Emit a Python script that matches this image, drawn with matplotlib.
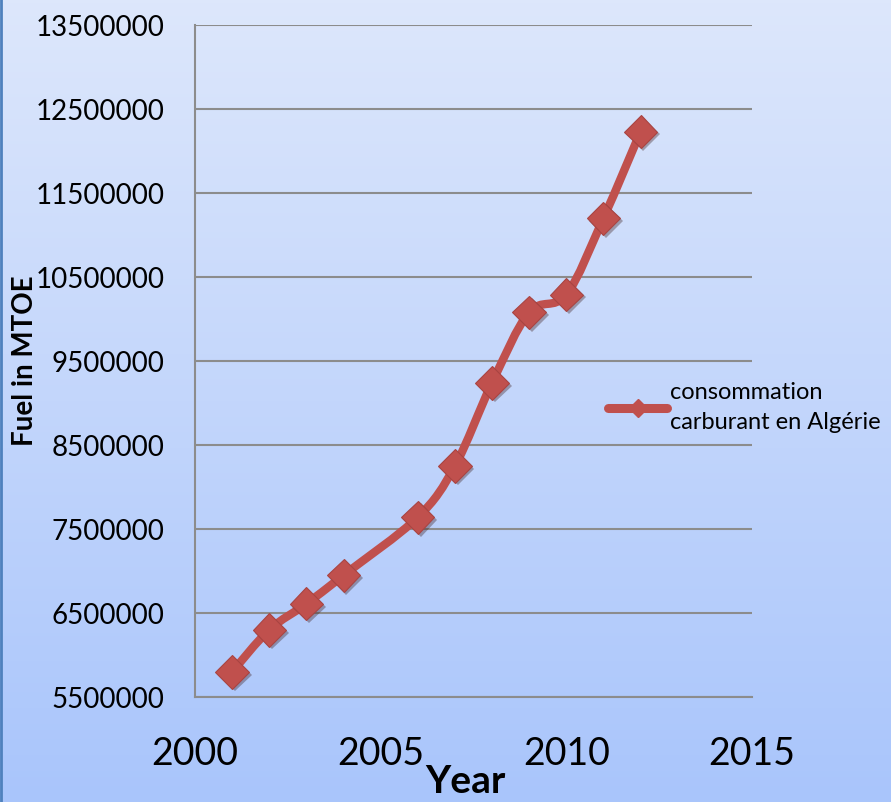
import numpy as np
import matplotlib
matplotlib.use('Agg')
import matplotlib.pyplot as plt
import matplotlib.patheffects as pe
from matplotlib.path import Path
from matplotlib.patches import PathPatch
from matplotlib.colors import LinearSegmentedColormap
from matplotlib.lines import Line2D

years = [2001, 2002, 2003, 2004, 2006, 2007, 2008, 2009, 2010, 2011, 2012]
fuel = [5800000, 6300000, 6610000, 6950000, 7640000, 8250000,
        9240000, 10080000, 10290000, 11200000, 12230000]

series_name = 'consommation\ncarburant en Algérie'
red = '#C0504D'

plt.rcParams['font.family'] = ['Lato', 'DejaVu Sans']


def smooth_path(xs, ys):
    # cubic bezier through every point, catmull-rom style tangents
    xs = np.asarray(xs, float)
    ys = np.asarray(ys, float)
    verts = [(xs[0], ys[0])]
    codes = [Path.MOVETO]
    n = len(xs)
    for i in range(n - 1):
        i0 = max(i - 1, 0)
        i3 = min(i + 2, n - 1)
        c1 = (xs[i] + (xs[i + 1] - xs[i0]) / 6, ys[i] + (ys[i + 1] - ys[i0]) / 6)
        c2 = (xs[i + 1] - (xs[i3] - xs[i]) / 6, ys[i + 1] - (ys[i3] - ys[i]) / 6)
        verts += [c1, c2, (xs[i + 1], ys[i + 1])]
        codes += [Path.CURVE4] * 3
    return Path(verts, codes)


fig = plt.figure(figsize=(8.91, 8.02), dpi=100)

# gradient background
bg = fig.add_axes([0, 0, 1, 1], zorder=-10)
grad = LinearSegmentedColormap.from_list('bg', ['#DDE7FB', '#A9C5FB'])
bg.imshow(np.linspace(0, 1, 256).reshape(-1, 1), aspect='auto', cmap=grad,
          extent=[0, 1, 0, 1])
bg.axvline(0.001, color='#4F81BD', lw=2)
bg.set_axis_off()

ax = fig.add_axes([0.2189, 0.1309, 0.6250, 0.8379])
ax.patch.set_alpha(0)

ax.set_xlim(2000, 2015)
ax.set_ylim(5500000, 13500000)
ax.set_xticks([2000, 2005, 2010, 2015])
ax.set_yticks(np.arange(5500000, 13500001, 1000000))
ax.ticklabel_format(style='plain', useOffset=False)
ax.grid(axis='y', color='#8C8C8C', lw=1.5)
ax.set_axisbelow(True)

for side in ['top', 'right']:
    ax.spines[side].set_visible(False)
for side in ['left', 'bottom']:
    ax.spines[side].set_color('#8C8C8C')
    ax.spines[side].set_linewidth(1.5)

ax.tick_params(axis='y', length=0, pad=22, labelsize=20)
ax.tick_params(axis='x', length=0, pad=28, labelsize=27)

curve = PathPatch(smooth_path(years, fuel), facecolor='none', edgecolor=red,
                  lw=6, capstyle='round', joinstyle='round', zorder=3)
ax.add_patch(curve)
ax.plot(years, fuel, linestyle='none', marker='D', markersize=17,
        markerfacecolor=red, markeredgecolor='#A94442', markeredgewidth=0.8,
        zorder=4,
        path_effects=[pe.SimplePatchShadow(offset=(2, -2), alpha=0.35),
                      pe.Normal()])

ax.set_xlabel('Year', fontsize=28, fontweight='bold')
ax.xaxis.set_label_coords(0.485, -0.1)
ax.set_ylabel('Fuel in MTOE', fontsize=20, fontweight='bold')
ax.yaxis.set_label_coords(-0.282, 0.5)

handle = Line2D([], [], color=red, lw=6.5, marker='D', markersize=9,
                solid_capstyle='round')
leg = fig.legend([handle], [series_name], loc='center left',
                 bbox_to_anchor=(0.672, 0.492), frameon=False, fontsize=17,
                 handlelength=2.5, handletextpad=0.12, borderaxespad=0,
                 labelspacing=0)
for t in leg.get_texts():
    t.set_linespacing(1.55)

fig.savefig('out.png', dpi=100)
